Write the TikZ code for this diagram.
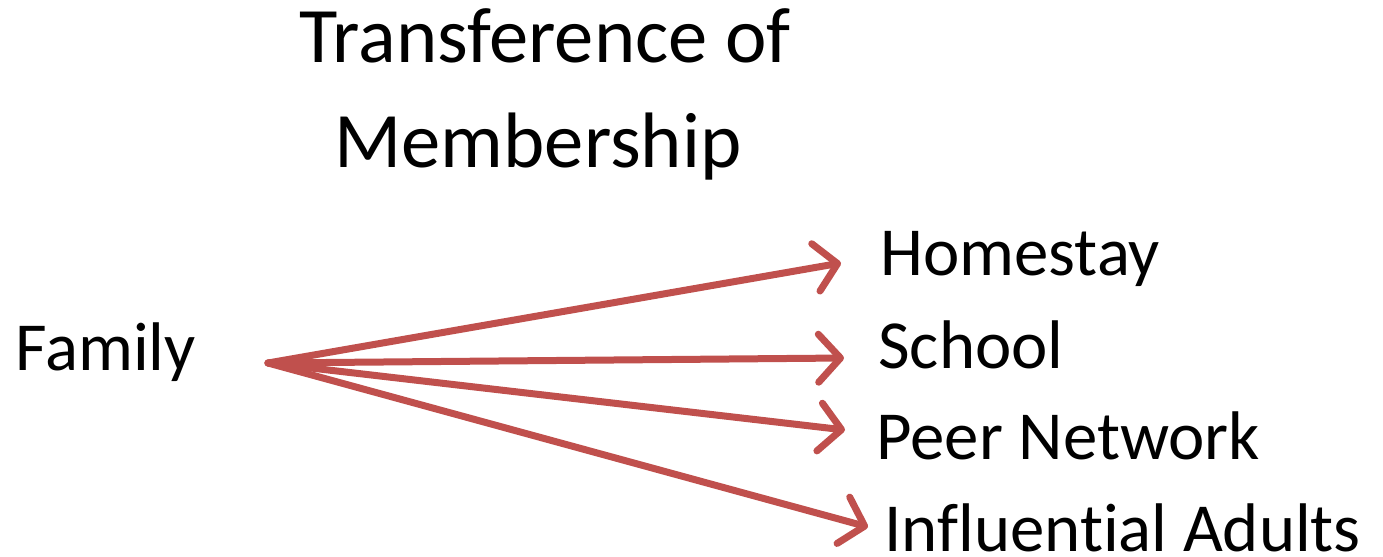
\documentclass[tikz,border=0pt]{standalone}
\usepackage{fontspec}
\setmainfont{Carlito}[Ligatures=NoCommon]
\usetikzlibrary{arrows.meta}
\definecolor{rossofreccia}{HTML}{C0504D}
\tikzset{
  titolo/.style={anchor=base, inner sep=0pt, font=\fontsize{39.3}{47}\selectfont},
  etichetta/.style={anchor=base west, inner sep=0pt, font=\fontsize{34.4}{41}\selectfont},
  freccia/.style={rossofreccia, line width=3.5pt, line cap=round, line join=round, -{Straight Barb[length=11pt,width=24pt,round]}}
}
\begin{document}
\begin{tikzpicture}[x=0.5pt,y=-0.5pt]
\useasboundingbox (0,0) rectangle (1383,557); % area del disegno
\node[titolo] (titolo1) at (545,62) {Transference of}; % prima riga del titolo
\node[titolo] (titolo2) at (538,167) {Membership}; % seconda riga del titolo
\node[etichetta] (family) at (15,370) {Family}; % origine
\node[etichetta] (homestay) at (880,275) {Homestay}; % destinazioni
\node[etichetta] (school) at (878,368) {School};
\node[etichetta] (peer) at (876,459) {Peer Network};
\node[etichetta] (adults) at (884,551) {Influential Adults};
\coordinate (hub) at (268,363); % punto di partenza delle frecce
\coordinate (homestay-tip) at (841,263);
\coordinate (school-tip) at (844,358);
\coordinate (peer-tip) at (845,430);
\coordinate (adults-tip) at (868,527);
\draw[freccia] (hub) -- (homestay-tip); % freccia verso Homestay
\draw[freccia] (hub) -- (school-tip); % freccia verso School
\draw[freccia] (hub) -- (peer-tip); % freccia verso Peer Network
\draw[freccia] (hub) -- (adults-tip); % freccia verso Influential Adults
\end{tikzpicture}
\end{document}
